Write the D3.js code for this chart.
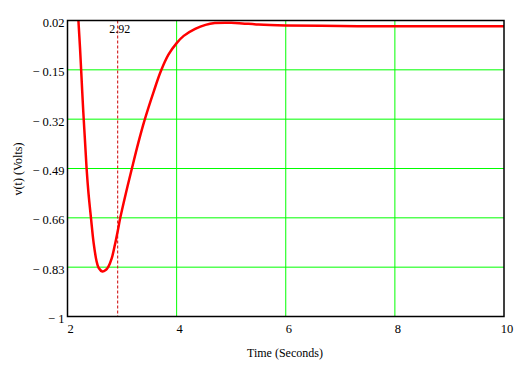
<!DOCTYPE html>
<html>
<head>
<meta charset="utf-8">
<script src="https://cdn.jsdelivr.net/npm/d3@7"></script>
<style>
  body { margin: 0; background: #fff; }
  text { font-family: "Liberation Serif", "Times New Roman", serif; fill: #000; }
</style>
</head>
<body>
<div id="chart"></div>
<script>
// Curve samples
const timeValues = [2.20, 2.23, 2.25, 2.27, 2.288, 2.32, 2.35, 2.385, 2.43, 2.48, 2.53, 2.57, 2.64, 2.70, 2.75, 2.81, 2.87, 2.92, 2.967, 3.07, 3.18, 3.30, 3.41, 3.58, 3.71, 3.85, 4.0, 4.13, 4.34, 4.53, 4.70, 5.0, 5.2, 5.5, 6.0, 7.0, 8.0, 10.0];
const voltValues = [0.02, -0.077, -0.15, -0.225, -0.29, -0.393, -0.49, -0.576, -0.66, -0.748, -0.807, -0.832, -0.845, -0.840, -0.828, -0.800, -0.752, -0.706, -0.66, -0.575, -0.49, -0.40, -0.325, -0.225, -0.155, -0.098, -0.058, -0.033, -0.009, 0.005, 0.011, 0.012, 0.010, 0.006, 0.003, 0.001, 0.0, 0.0];

const xTicks = [2, 4, 6, 8, 10];
const yTicks = [0.02, -0.15, -0.32, -0.49, -0.66, -0.83, -1];
const markerX = 2.92;

const width = 525, height = 369;
const margin = { left: 67.5, right: 21, top: 20.5, bottom: 52.5 };

const svg = d3.select("#chart")
    .append("svg")
    .attr("width", width)
    .attr("height", height);

const x = d3.scaleLinear().domain([2, 10]).range([margin.left, width - margin.right]);
const y = d3.scaleLinear().domain([-1, 0.02]).range([height - margin.bottom, margin.top]);

// green grid
svg.append("g")
    .selectAll("line")
    .data(xTicks.slice(1, -1))
    .enter()
    .append("line")
    .attr("x1", d => x(d)).attr("x2", d => x(d))
    .attr("y1", y(0.02)).attr("y2", y(-1))
    .attr("stroke", "#00ff00");

svg.append("g")
    .selectAll("line")
    .data(yTicks.slice(1, -1))
    .enter()
    .append("line")
    .attr("x1", x(2)).attr("x2", x(10))
    .attr("y1", d => y(d)).attr("y2", d => y(d))
    .attr("stroke", "#00ff00");

// marker
svg.append("line")
    .attr("x1", x(markerX)).attr("x2", x(markerX))
    .attr("y1", y(0.02)).attr("y2", y(-1))
    .attr("stroke", "#cc0000")
    .attr("stroke-dasharray", "3,2");

svg.append("text")
    .attr("x", x(markerX) + 2)
    .attr("y", y(0.02) + 12)
    .attr("text-anchor", "middle")
    .style("font-size", "12px")
    .text("2.92");

// curve
const pts = timeValues.map((t, i) => [t, voltValues[i]]);
svg.append("defs").append("clipPath").attr("id", "clip")
    .append("rect")
    .attr("x", x(2)).attr("y", y(0.02))
    .attr("width", x(10) - x(2)).attr("height", y(-1) - y(0.02));

svg.append("path")
    .datum(pts)
    .attr("clip-path", "url(#clip)")
    .attr("d", d3.line().x(d => x(d[0])).y(d => y(d[1])).curve(d3.curveCatmullRom.alpha(0.5)))
    .attr("fill", "none")
    .attr("stroke", "#ff0000")
    .attr("stroke-width", 2.5);

// frame
svg.append("rect")
    .attr("x", x(2)).attr("y", y(0.02))
    .attr("width", x(10) - x(2)).attr("height", y(-1) - y(0.02))
    .attr("fill", "none")
    .attr("stroke", "#000")
    .attr("stroke-width", 1.5);

// tick labels
svg.append("g")
    .selectAll("text")
    .data(yTicks)
    .enter()
    .append("text")
    .attr("x", x(2) - 3)
    .attr("y", d => y(d) + 6.5)
    .attr("text-anchor", "end")
    .style("font-size", "12.5px")
    .text(d => d < 0 ? "\u2212 " + Math.abs(d) : d.toFixed(2));

svg.append("g")
    .selectAll("text")
    .data(xTicks)
    .enter()
    .append("text")
    .attr("x", d => x(d) + 3)
    .attr("y", y(-1) + 16)
    .attr("text-anchor", "middle")
    .style("font-size", "12.5px")
    .text(d => d);

// axis titles
svg.append("text")
    .attr("x", 285)
    .attr("y", 357)
    .attr("text-anchor", "middle")
    .style("font-size", "12px")
    .text("Time (Seconds)");

svg.append("text")
    .attr("transform", "translate(22,169) rotate(-90)")
    .attr("text-anchor", "middle")
    .style("font-size", "12px")
    .text("v(t) (Volts)");
</script>
</body>
</html>
